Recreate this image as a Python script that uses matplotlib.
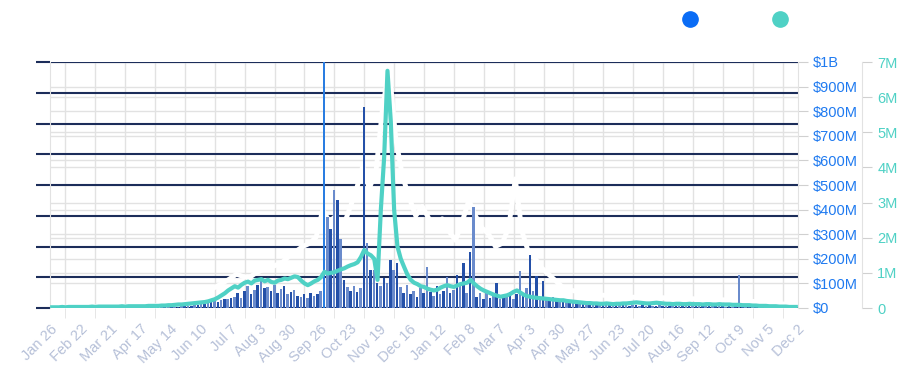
import matplotlib
matplotlib.use("Agg")
import matplotlib.pyplot as plt
from matplotlib.lines import Line2D
import pandas as pd

plt.rcParams['font.family'] = ['Liberation Sans', 'DejaVu Sans']

# 3-day bins starting Jan 26 2021
bin_start = '2021-01-26'
n_bins = 225

# volume per bin, in $M
volume_m = [
    1, 1, 1, 1, 1, 1, 1, 1, 2, 1, 1, 2, 1, 2, 2, 1, 2, 2, 2, 2,
    2, 2, 3, 2, 2, 3, 3, 2, 3, 3, 3, 3, 4, 3, 4, 4,
    5, 5, 6, 7, 8, 9, 10, 12, 14,
    16, 18, 20, 24, 28, 25, 32, 38, 35, 42,
    45, 60, 40, 68, 90, 55, 75, 95, 115, 80,
    85, 70, 95, 60, 78, 88, 55, 65, 72, 50,
    45, 58, 40, 62, 48, 55, 70,
    1100, 370, 320, 480, 440, 280, 115,
    85, 70, 90, 65, 80,
    817, 264, 155, 155,
    100, 90, 120, 100,
    195, 155, 183,
    85, 60, 95, 55, 70, 45, 80, 60,
    167,
    65, 50, 88, 55, 70,
    126,
    60, 75,
    135, 100, 183, 60, 228, 410,
    45, 60, 35, 70, 40, 55, 100, 38, 50, 45, 65, 35, 55,
    150, 60, 80, 215, 70, 130, 45, 110,
    40, 35, 45, 30, 38, 28,
    25, 22, 28, 20, 18, 24, 16, 20, 15, 18, 14, 17, 13, 15, 12, 14,
    13, 11, 12, 10, 12, 11, 10, 12, 9, 11, 10, 9, 11, 10, 9, 10, 8, 9, 10, 8,
    9, 8, 9, 8, 7, 9, 8, 7, 8, 7, 8, 7, 6, 7, 6,
    7, 135,
    6, 5, 6, 5, 5, 4, 5, 4, 4, 3, 4, 3, 3, 3, 2, 2, 2,
]

# sales count per bin, in millions
sales_m = [
    0.02, 0.02, 0.02, 0.03, 0.02, 0.03, 0.03, 0.03, 0.03, 0.03,
    0.03, 0.03, 0.04, 0.03, 0.04, 0.04, 0.04, 0.04, 0.04, 0.04,
    0.04, 0.05, 0.04, 0.05, 0.05, 0.05, 0.05, 0.05, 0.05, 0.06,
    0.06, 0.06, 0.06, 0.07, 0.07, 0.08,
    0.08, 0.09, 0.10, 0.10, 0.11, 0.12, 0.13, 0.14, 0.15, 0.16,
    0.17, 0.19, 0.22, 0.25, 0.30, 0.36, 0.42, 0.50, 0.56, 0.62,
    0.58, 0.66, 0.72, 0.75, 0.70, 0.78, 0.80, 0.82, 0.76, 0.80,
    0.74, 0.72, 0.78, 0.80, 0.84, 0.82, 0.86, 0.90, 0.88, 0.78,
    0.70, 0.65, 0.70, 0.76, 0.80, 0.88, 1.03, 0.98, 1.00, 1.02,
    1.06, 1.10, 1.13, 1.18, 1.22, 1.25, 1.30, 1.45, 1.65, 1.55,
    1.50, 1.40, 0.80, 2.80, 4.30, 6.75, 5.30, 2.80, 1.75, 1.40,
    1.17, 0.95, 0.80, 0.72, 0.68, 0.62, 0.60, 0.55, 0.52, 0.50,
    0.52, 0.58, 0.62, 0.65, 0.62, 0.60, 0.64, 0.68, 0.70, 0.72,
    0.80, 0.70, 0.62, 0.55, 0.50, 0.46, 0.42, 0.38, 0.35, 0.32,
    0.34, 0.36, 0.40, 0.46, 0.50, 0.44, 0.38, 0.34, 0.32, 0.30,
    0.29, 0.28, 0.27, 0.26, 0.25, 0.24, 0.23, 0.22, 0.22,
    0.20, 0.19, 0.18, 0.17, 0.16, 0.15, 0.14, 0.14, 0.13, 0.13,
    0.12, 0.12, 0.13, 0.12, 0.11, 0.12, 0.12, 0.13, 0.13, 0.14,
    0.15, 0.16, 0.15, 0.14, 0.13, 0.13, 0.14, 0.15, 0.14, 0.13,
    0.12, 0.12, 0.11, 0.12, 0.12, 0.11, 0.11, 0.12, 0.11, 0.11,
    0.11, 0.10, 0.11, 0.11, 0.10, 0.10, 0.11, 0.10, 0.10, 0.10,
    0.09, 0.09, 0.09, 0.08, 0.08, 0.08, 0.07, 0.07, 0.06, 0.06,
    0.06, 0.05, 0.05, 0.05, 0.04, 0.04, 0.04, 0.03, 0.03, 0.03,
]

# third series (drawn in white), every 6 days
price_start = '2021-01-26'
price = [
    0.03, 0.03, 0.02, 0.03, 0.04, 0.03, 0.03, 0.04, 0.05, 0.04,
    0.05, 0.05, 0.06, 0.05, 0.06, 0.07, 0.08, 0.08, 0.10, 0.12,
    0.15, 0.22, 0.32, 0.45, 0.58, 0.70, 0.82, 0.95, 1.10, 1.02,
    1.00, 1.15, 1.25, 1.30, 1.40, 1.50, 1.70, 1.85, 2.00, 2.10,
    2.30, 3.20, 2.80, 3.00, 2.60, 3.20, 3.80, 4.60, 3.90, 4.40,
    6.50, 7.80, 5.50, 4.30, 3.60, 3.00, 3.30, 2.90, 2.60, 2.90,
    2.50, 2.20, 2.80, 3.50, 3.00, 2.60, 2.40, 2.00, 2.10, 2.60,
    4.20, 2.50, 1.80, 1.60, 1.30, 1.10, 0.90, 0.70,
    0.60, 0.55, 0.50, 0.50, 0.45, 0.42,
    0.40, 0.38, 0.38, 0.36, 0.35, 0.36, 0.34, 0.33, 0.34, 0.32,
    0.31, 0.30, 0.31, 0.30, 0.29, 0.28, 0.28,
    0.27, 0.26, 0.25, 0.24, 0.23, 0.21, 0.20, 0.18, 0.16, 0.14, 0.12, 0.10,
]

tick_labels = ['Jan 26', 'Feb 22', 'Mar 21', 'Apr 17', 'May 14', 'Jun 10', 'Jul 7',
               'Aug 3', 'Aug 30', 'Sep 26', 'Oct 23', 'Nov 19', 'Dec 16', 'Jan 12',
               'Feb 8', 'Mar 7', 'Apr 3', 'Apr 30', 'May 27', 'Jun 23', 'Jul 20',
               'Aug 16', 'Sep 12', 'Oct 9', 'Nov 5', 'Dec 2']
vol_ticks = [0, 100, 200, 300, 400, 500, 600, 700, 800, 900, 1000]
vol_labels = ['$0', '$100M', '$200M', '$300M', '$400M', '$500M', '$600M',
              '$700M', '$800M', '$900M', '$1B']
sales_ticks = [0, 1, 2, 3, 4, 5, 6, 7]
sales_labels = ['0', '1M', '2M', '3M', '4M', '5M', '6M', '7M']

navy = '#1c2d5a'
blue = '#1f7af0'
teal = '#4fd1c5'
light = '#e2e2e2'

bins = pd.date_range(bin_start, periods=n_bins, freq='3D')
price_dates = pd.date_range(price_start, periods=len(price), freq='6D')
tick_dates = pd.date_range(bin_start, periods=len(tick_labels), freq='27D')
mid_dates = tick_dates[:-1] + pd.Timedelta(hours=324)

fig = plt.figure(figsize=(9, 3.75), dpi=100)
ax = fig.add_axes([50 / 900, 1 - 308 / 375, 748 / 900, 246 / 375])
ax.set_xlim(tick_dates[0] - pd.Timedelta(hours=12), tick_dates[-1] + pd.Timedelta(hours=12))
ax.set_ylim(0, 8)
ax.set_axisbelow(True)

# light horizontal grid for both right-hand scales
for t in vol_ticks:
    ax.plot([0, 1], [t / 1000, t / 1000], transform=ax.transAxes, color=light, lw=1, zorder=0.3)
for t in sales_ticks:
    ax.plot([0, 1], [t / 7, t / 7], transform=ax.transAxes, color=light, lw=1, zorder=0.3)

# hidden left scale: dark grid, labels in white
ax.set_yticks(range(9))
ax.yaxis.grid(True, color=navy, lw=1.5)
ax.tick_params(axis='y', length=10, width=1.5, color=navy, labelcolor='white', labelsize=1)

ax.set_xticks(tick_dates)
ax.set_xticklabels(tick_labels, rotation=45, ha='right', va='top', rotation_mode='anchor')
ax.set_xticks(mid_dates, minor=True)
ax.xaxis.grid(True, which='minor', color=light, lw=1)
ax.tick_params(axis='x', which='major', length=0, pad=10, labelsize=10.5, labelcolor='#b6c0d8')
ax.tick_params(axis='x', which='minor', length=7, color=light)
for s in ['top', 'right', 'bottom']:
    ax.spines[s].set_visible(False)
ax.spines['left'].set_color(light)

ax.plot(price_dates, price, color='white', lw=3.5, zorder=2)

# volume bars
axv = ax.twinx()
axv.set_ylim(0, 1000)
bar_colors = ['#2450a8' if i % 2 == 0 else '#6a8bcc' for i in range(n_bins)]
bar_colors[82] = '#2a7de1'
axv.bar(bins, volume_m, width=2.3, align='edge', color=bar_colors, lw=0)
axv.set_yticks(vol_ticks)
axv.set_yticklabels(vol_labels)
axv.tick_params(axis='y', length=7, color='#d0d0d0', labelcolor=blue, labelsize=10.5, pad=4)
for s in ['top', 'left', 'bottom']:
    axv.spines[s].set_visible(False)
axv.spines['right'].set_color(light)

# sales line
axc = ax.twinx()
axc.set_ylim(0, 7)
axc.plot(bins + pd.Timedelta(hours=36), sales_m, color=teal, lw=3.0, solid_joinstyle='round')
axc.set_yticks(sales_ticks)
axc.set_yticklabels(sales_labels)
axc.spines['right'].set_position(('outward', 46))
axc.tick_params(axis='y', length=7, color='#d0d0d0', labelcolor=teal, labelsize=10.5, pad=4)
for s in ['top', 'left', 'bottom']:
    axc.spines[s].set_visible(False)
axc.spines['right'].set_color(light)

handles = [Line2D([], [], marker='o', ls='', ms=11, color='#0a6cf5'),
           Line2D([], [], marker='o', ls='', ms=11, color=teal)]
fig.legend(handles, ['Volume', 'Sales'], loc='center left', bbox_to_anchor=(0.744, 0.947),
           ncol=2, frameon=False, labelcolor='white', fontsize=10.5,
           handlelength=1.0, handletextpad=0.8, columnspacing=1.0)

fig.savefig('out.png', dpi=100)
